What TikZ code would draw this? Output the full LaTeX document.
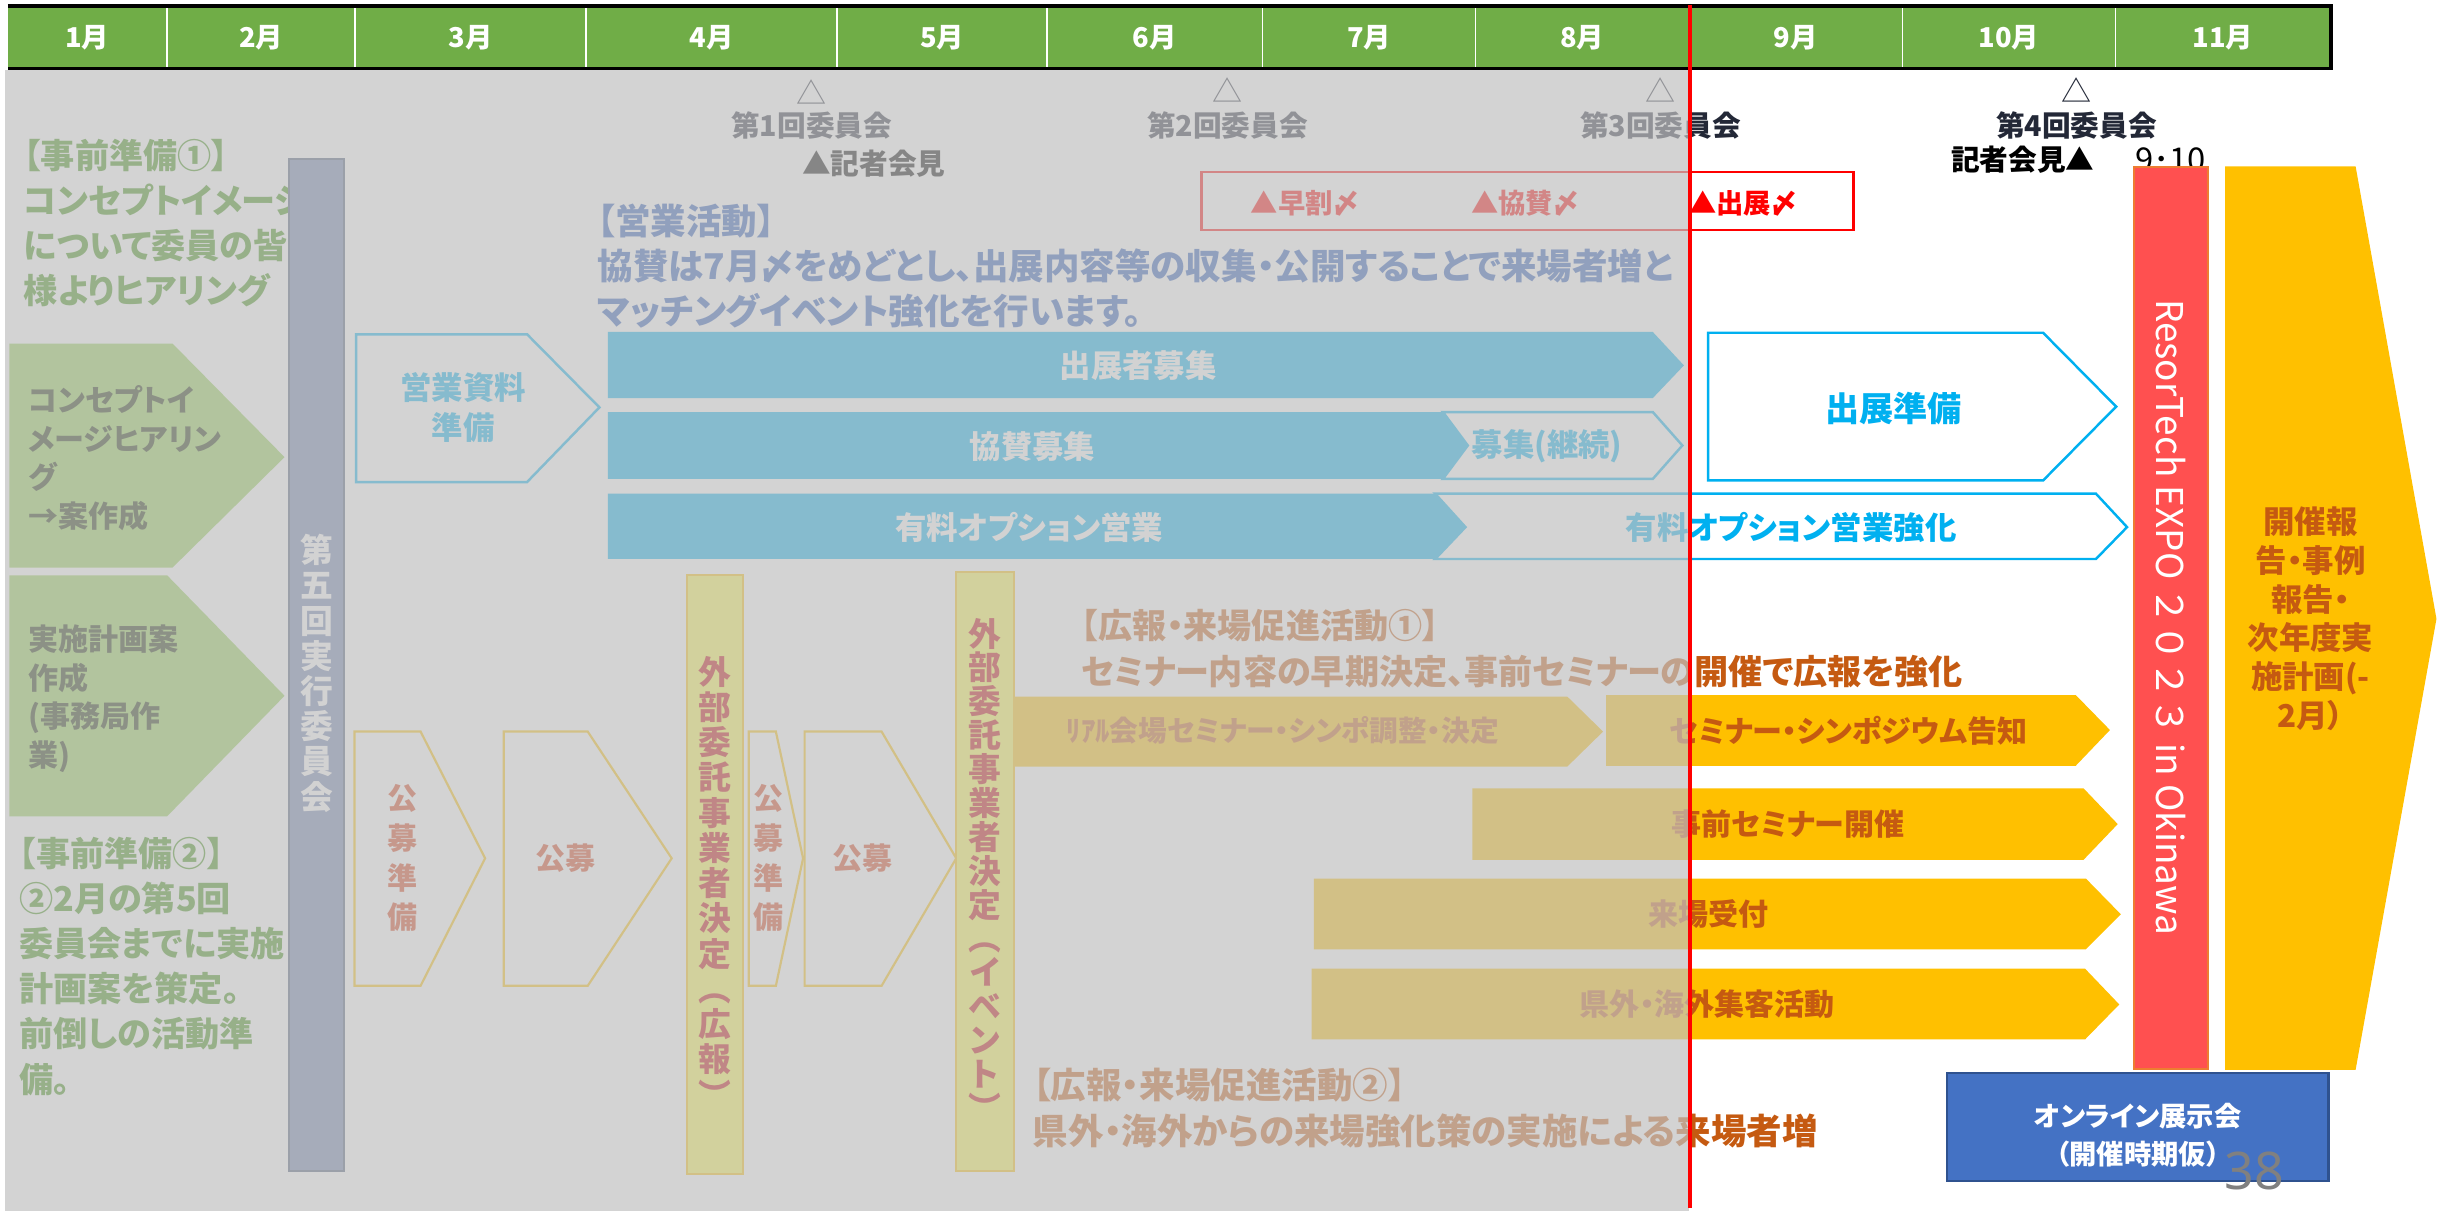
\documentclass[tikz,border=0pt]{standalone}
\usepackage{fontspec}
\setmainfont{Noto Sans CJK JP}[RawFeature=+palt]
\newfontfamily\expofont{Noto Sans CJK JP}
\newfontfamily\pagefont{Noto Sans}
\usepackage{tikz}

\definecolor{hdrgreen}{RGB}{112,173,71}
\definecolor{veilgray}{RGB}{192,192,192}
\definecolor{prepgreen}{RGB}{146,208,80}
\definecolor{prepgreentext}{RGB}{55,140,10}
\definecolor{preptextcol}{RGB}{20,35,0}
\definecolor{execgray}{RGB}{105,125,172}
\definecolor{execedge}{RGB}{70,85,115}
\definecolor{salesblue}{RGB}{0,176,240}
\definecolor{salestext}{RGB}{35,85,185}
\definecolor{pryellow}{RGB}{255,192,0}
\definecolor{prbrown}{RGB}{197,90,17}
\definecolor{calltext}{RGB}{215,60,20}
\definecolor{bidred}{RGB}{192,0,0}
\definecolor{bidfill}{RGB}{255,250,75}
\definecolor{cmtext}{RGB}{35,40,55}
\definecolor{expored}{RGB}{255,80,80}
\definecolor{expoedge}{RGB}{237,125,49}
\definecolor{onlineblue}{RGB}{68,114,196}
\definecolor{onlineedge}{RGB}{47,82,143}

\begin{document}
\begin{tikzpicture}[x=0.02cm,y=-0.02cm,
  every node/.style={inner sep=0pt},
  month/.style={text=white,font=\bfseries\fontsize{10}{12}\selectfont},
  cmte/.style={text=cmtext,font=\bfseries\fontsize{10.5}{12}\selectfont},
  cmtetri/.style={text=cmtext,font=\fontsize{11}{12}\selectfont},
  redmark/.style={text=red,font=\bfseries\fontsize{10}{12}\selectfont},
  prephead/.style={text=prepgreentext,font=\bfseries\fontsize{12.5}{16.5}\selectfont,align=left,anchor=west},
  preptext/.style={text=preptextcol,font=\bfseries\fontsize{11}{14.2}\selectfont,align=left,anchor=west},
  saleshead/.style={text=salestext,font=\bfseries\fontsize{13}{16.5}\selectfont,align=left,anchor=west},
  barlabel/.style={text=white,font=\bfseries\fontsize{11.5}{14}\selectfont},
  bluelabel/.style={text=salesblue,font=\bfseries\fontsize{11.5}{14.5}\selectfont,align=center},
  bluebar/.style={fill=salesblue},
  blueoutline/.style={draw=salesblue,line width=0.9pt},
  calloutline/.style={draw=pryellow,line width=0.8pt},
  calllabel/.style={text=calltext,font=\bfseries\fontsize{11}{14.5}\selectfont,align=center},
  bidbar/.style={fill=bidfill,draw=pryellow,line width=0.8pt},
  bidlabel/.style={text=bidred,font=\bfseries\fontsize{12}{12.9}\selectfont,align=center},
  prbar/.style={fill=pryellow},
  prlabel/.style={text=prbrown,font=\bfseries\fontsize{11}{14}\selectfont},
  prhead/.style={text=prbrown,font=\bfseries\fontsize{12.5}{16.8}\selectfont,align=left,anchor=west}]
\useasboundingbox (0,0) rectangle (1568,779);

% month header
\fill[hdrgreen] (5,4) rectangle (1499,44);
\foreach \x in {107.5,228.5,377,538.5,673.5,812,949,1086,1223.5,1360.5}
  \draw[white,line width=0.6pt] (\x,5) -- (\x,43);
\draw[black,line width=1.3pt] (5,4) -- (1499,4) -- (1499,44) -- (5,44);
\foreach \x/\m [count=\i] in {56/1月,168/2月,302.7/3月,457.7/4月,606/5月,742.7/6月,880.5/7月,1017.5/8月,1154.7/9月,1292/10月,1429.7/11月}
  \node[month] (m\i) at (\x,24) {\m};

% preparation (left)
\node[prephead] (prep1) at (15,143.5) {【事前準備①】\\コンセプトイメージ\\について委員の皆\\様よりヒアリング};
\fill[prepgreen] (6,221) -- (111,221) -- (183,294) -- (111,365) -- (6,365) -- cycle;
\node[preptext] (concept) at (18,294.7) {コンセプトイ\\メージヒアリン\\グ\\→案作成};
\fill[prepgreen] (6,370) -- (107.5,370) -- (183,447.5) -- (107.5,525) -- (6,525) -- cycle;
\node[preptext] (plan) at (18,449.3) {実施計画案\\作成\\(事務局作\\業)};
\node[prephead] (prep2) at (12,621.5) {【事前準備②】\\②2月の第5回\\委員会までに実施\\計画案を策定。\\前倒しの活動準\\備。};
\draw[execedge,fill=execgray,line width=0.8pt] (186,102) rectangle (221,753);
\node[text=white,font=\bfseries\fontsize{12}{12.9}\selectfont,align=center] (exec) at (203.5,433)
  {第\\五\\回\\実\\行\\委\\員\\会};

% sales
\node[saleshead] (sales) at (384,171) {【営業活動】\\協賛は7月〆をめどとし、出展内容等の収集・公開することで来場者増と\\マッチングイベント強化を行います。};
\draw[blueoutline] (229,215) -- (339,215) -- (385.5,262) -- (339,310) -- (229,310) -- cycle;
\node[bluelabel] (salesdoc) at (298,262) {営業資料\\準備};
\fill[bluebar] (391,213.5) -- (1063,213.5) -- (1083,235) -- (1063,256) -- (391,256) -- cycle;
\node[barlabel] (exhibitor) at (732,235) {出展者募集};
\draw[blueoutline] (928,265) -- (1063,265) -- (1082,286.5) -- (1063,308) -- (928,308) -- (944,286.5) -- cycle;
\fill[bluebar] (391,265) -- (928,265) -- (944,286.5) -- (928,308) -- (391,308) -- cycle;
\node[barlabel] (sponsor) at (664,287) {協賛募集};
\node[bluelabel] (sponsorcont) at (995,287) {募集(継続)};
\draw[blueoutline] (923,317.5) -- (1348,317.5) -- (1368,339) -- (1348,359.5) -- (923,359.5) -- (942.5,339) -- cycle;
\fill[bluebar] (391,317.5) -- (923,317.5) -- (942.5,339) -- (923,359.5) -- (391,359.5) -- cycle;
\node[barlabel] (option) at (662,339) {有料オプション営業};
\node[bluelabel] (optionplus) at (1152,339) {有料オプション営業強化};
\draw[blueoutline] (1098.5,214) -- (1314,214) -- (1361,261.5) -- (1314,309) -- (1098.5,309) -- cycle;
\node[bluelabel,font=\bfseries\fontsize{12.5}{14}\selectfont] (booth) at (1218,263) {出展準備};

% public call and contractors
\draw[calloutline] (228,470.5) -- (270.5,470.5) -- (312,552) -- (270.5,634) -- (228,634) -- cycle;
\node[calllabel] (callprep1) at (259,552) {公\\募\\準\\備};
\draw[calloutline] (324,470.5) -- (378,470.5) -- (432,552) -- (378,634) -- (324,634) -- cycle;
\node[calllabel] (call1) at (364,552) {公募};
\draw[calloutline] (481.5,470.5) -- (499,470.5) -- (516.5,552) -- (499,634) -- (481.5,634) -- cycle;
\node[calllabel] (callprep2) at (494,552) {公\\募\\準\\備};
\draw[calloutline] (517.5,470.5) -- (567,470.5) -- (615,552) -- (567,634) -- (517.5,634) -- cycle;
\node[calllabel] (call2) at (555,552) {公募};

% public relations
\node[prhead] (pr1) at (695,417) {【広報・来場促進活動①】\\セミナー内容の早期決定、事前セミナーの開催で広報を強化};
\fill[prbar] (640,448) -- (1008,448) -- (1031,470.5) -- (1008,493) -- (640,493) -- cycle;
\node[prlabel,font=\bfseries\fontsize{10.5}{12}\selectfont] (realseminar) at (825,470) {ﾘｱﾙ会場セミナー・シンポ調整・決定};
\fill[prbar] (1033,447) -- (1335,447) -- (1357,469.5) -- (1335,492.5) -- (1033,492.5) -- cycle;
\node[prlabel] (notice) at (1189,470) {セミナー・シンポジウム告知};
\fill[prbar] (947,507) -- (1340,507) -- (1362,530) -- (1340,553) -- (947,553) -- cycle;
\node[prlabel] (preseminar) at (1150,530) {事前セミナー開催};
\fill[prbar] (845,565) -- (1341.5,565) -- (1364,588) -- (1341.5,610.5) -- (845,610.5) -- cycle;
\node[prlabel] (reception) at (1099,588) {来場受付};
\fill[prbar] (843.5,623) -- (1341,623) -- (1363,646) -- (1341,668.5) -- (843.5,668.5) -- cycle;
\node[prlabel] (visitors) at (1098,646) {県外・海外集客活動};
\node[prhead,font=\bfseries\fontsize{13}{16.8}\selectfont] (pr2) at (664,712.4) {【広報・来場促進活動②】\\県外・海外からの来場強化策の実施による来場者増};

\draw[bidbar] (442,370) rectangle (478,755);
\node[bidlabel] (bidpr) at (460,567) {外\\部\\委\\託\\事\\業\\者\\決\\定\\︵\\広\\報\\︶};
\draw[bidbar] (615,368) rectangle (652,753);
\node[bidlabel,font=\bfseries\fontsize{12}{12.4}\selectfont] (bidevent) at (633.5,559) {外\\部\\委\\託\\事\\業\\者\\決\\定\\︵\\イ\\ベ\\ン\\ト\\︶};

% committees and deadlines
\node[cmtetri] (t1) at (522,59) {△};
\node[cmte] (c1) at (522,81) {第1回委員会};
\node[cmte,text=black] (press1) at (562,105) {▲記者会見};
\node[cmtetri] (t2) at (789.5,58) {△};
\node[cmte] (c2) at (789.5,80.5) {第2回委員会};
\node[cmtetri] (t3) at (1068,58) {△};
\node[cmte] (c3) at (1068,80.5) {第3回委員会};
\node[cmtetri] (t4) at (1335.5,58) {△};
\node[cmte] (c4) at (1335.5,80.5) {第4回委員会};
\node[cmte,text=black] (press2) at (1301,103) {記者会見▲};
\node[text=black,font=\fontsize{12}{13}\selectfont] (expodate) at (1396,103) {9･10};
\draw[red,line width=0.9pt] (772.7,110.6) rectangle (1192,147.9);
\node[redmark] (early) at (839,130.5) {▲早割〆};
\node[redmark] (sponsordl) at (980.6,130.5) {▲協賛〆};
\node[redmark] (exhibitdl) at (1121,130.5) {▲出展〆};

% expo and after
\draw[expoedge,fill=expored,line width=0.5pt] (1372.5,107.5) rectangle (1420,687.5);
\node[rotate=-90,text=white,font=\expofont\fontsize{13.5}{16}\selectfont] (expo) at (1396,397) {ResorTech EXPO ２０２３ in Okinawa};
\fill[pryellow] (1431,107) -- (1515,107) -- (1567,398) -- (1515,688) -- (1431,688) -- cycle;
\node[text=prbrown,font=\bfseries\fontsize{11.5}{14.2}\selectfont,align=center] (report) at (1486,398)
  {開催報\\告・事例\\報告・\\次年度実\\施計画(-\\2月）};
\draw[onlineedge,fill=onlineblue,line width=0.8pt] (1252,690) rectangle (1497.5,759.5);
\node[text=white,font=\bfseries\fontsize{10}{13.7}\selectfont,align=center] (online) at (1375,730) {オンライン展示会\\（開催時期仮）};
\node[text=black!50,font=\pagefont\fontsize{19}{20}\selectfont] (page) at (1450,753) {38};

% done part veiled, today line
\fill[veilgray,fill opacity=0.7] (3,44.8) rectangle (1086,779);
\draw[red,line width=1.7pt] (1087,3) -- (1087,777);
\end{tikzpicture}
\end{document}
